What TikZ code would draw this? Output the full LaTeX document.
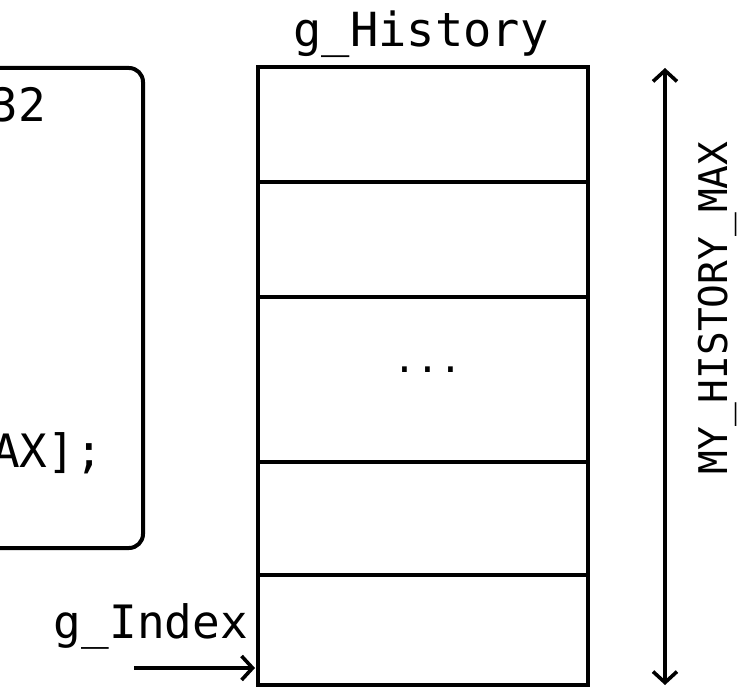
\documentclass[tikz,border=0pt]{standalone}
\usepackage{fontspec}
\setmonofont{DejaVu Sans Mono}
\usetikzlibrary{arrows.meta}
\begin{document}
\begin{tikzpicture}[x=1pt,y=-1pt,
  cell line/.style={line width=4.5pt},
  box line/.style={line width=4pt},
  code/.style={font=\ttfamily\fontsize{46}{50}\selectfont, inner sep=0pt},
  label/.style={font=\ttfamily\fontsize{46}{50}\selectfont, inner sep=0pt},
  barb/.tip={Straight Barb[length=11pt,width=24pt,line width=3.6pt]},
  openarrow/.style={line width=3.6pt, barb-barb},
  pointer/.style={line width=3.6pt, -barb}]
\useasboundingbox (0,0) rectangle (744,687);
\clip (0,0) rectangle (744,687);

% declaration box, running off the left edge
\draw[box line, rounded corners=14pt] (-200,68) rectangle (143,548);
\node[code, anchor=base east] (n32) at (46,122) {32};
\node[code, anchor=base east] (decl) at (103,467) {AX];};

% the g_History array
\node[label, font=\ttfamily\fontsize{47}{50}\selectfont, anchor=base] (hist) at (421,47) {g\_History};
\draw[cell line] (258,67) rectangle (588,685);
\coordinate (cellA) at (258,182);
\coordinate (cellB) at (258,297);
\coordinate (cellC) at (258,462);
\coordinate (cellD) at (258,575);
\foreach \c in {cellA,cellB,cellC,cellD}
  \draw[cell line] (\c) -- ++(330,0);
\node[font=\ttfamily\fontsize{38}{40}\selectfont, inner sep=0pt] (dots) at (428,370) {...};

% size of the array
\coordinate (top) at (665,68);
\coordinate (bot) at (665,685);
\draw[openarrow] (top) -- (bot);
\node[label, font=\ttfamily\fontsize{39.5}{42}\selectfont, rotate=90, anchor=center] (max) at (717,308) {MY\_HISTORY\_MAX};

% index pointer
\node[label, anchor=base east] (idx) at (248,638) {g\_Index};
\coordinate (idxstart) at (134,668);
\coordinate (idxend) at (255,668);
\draw[pointer] (idxstart) -- (idxend);
\end{tikzpicture}
\end{document}
